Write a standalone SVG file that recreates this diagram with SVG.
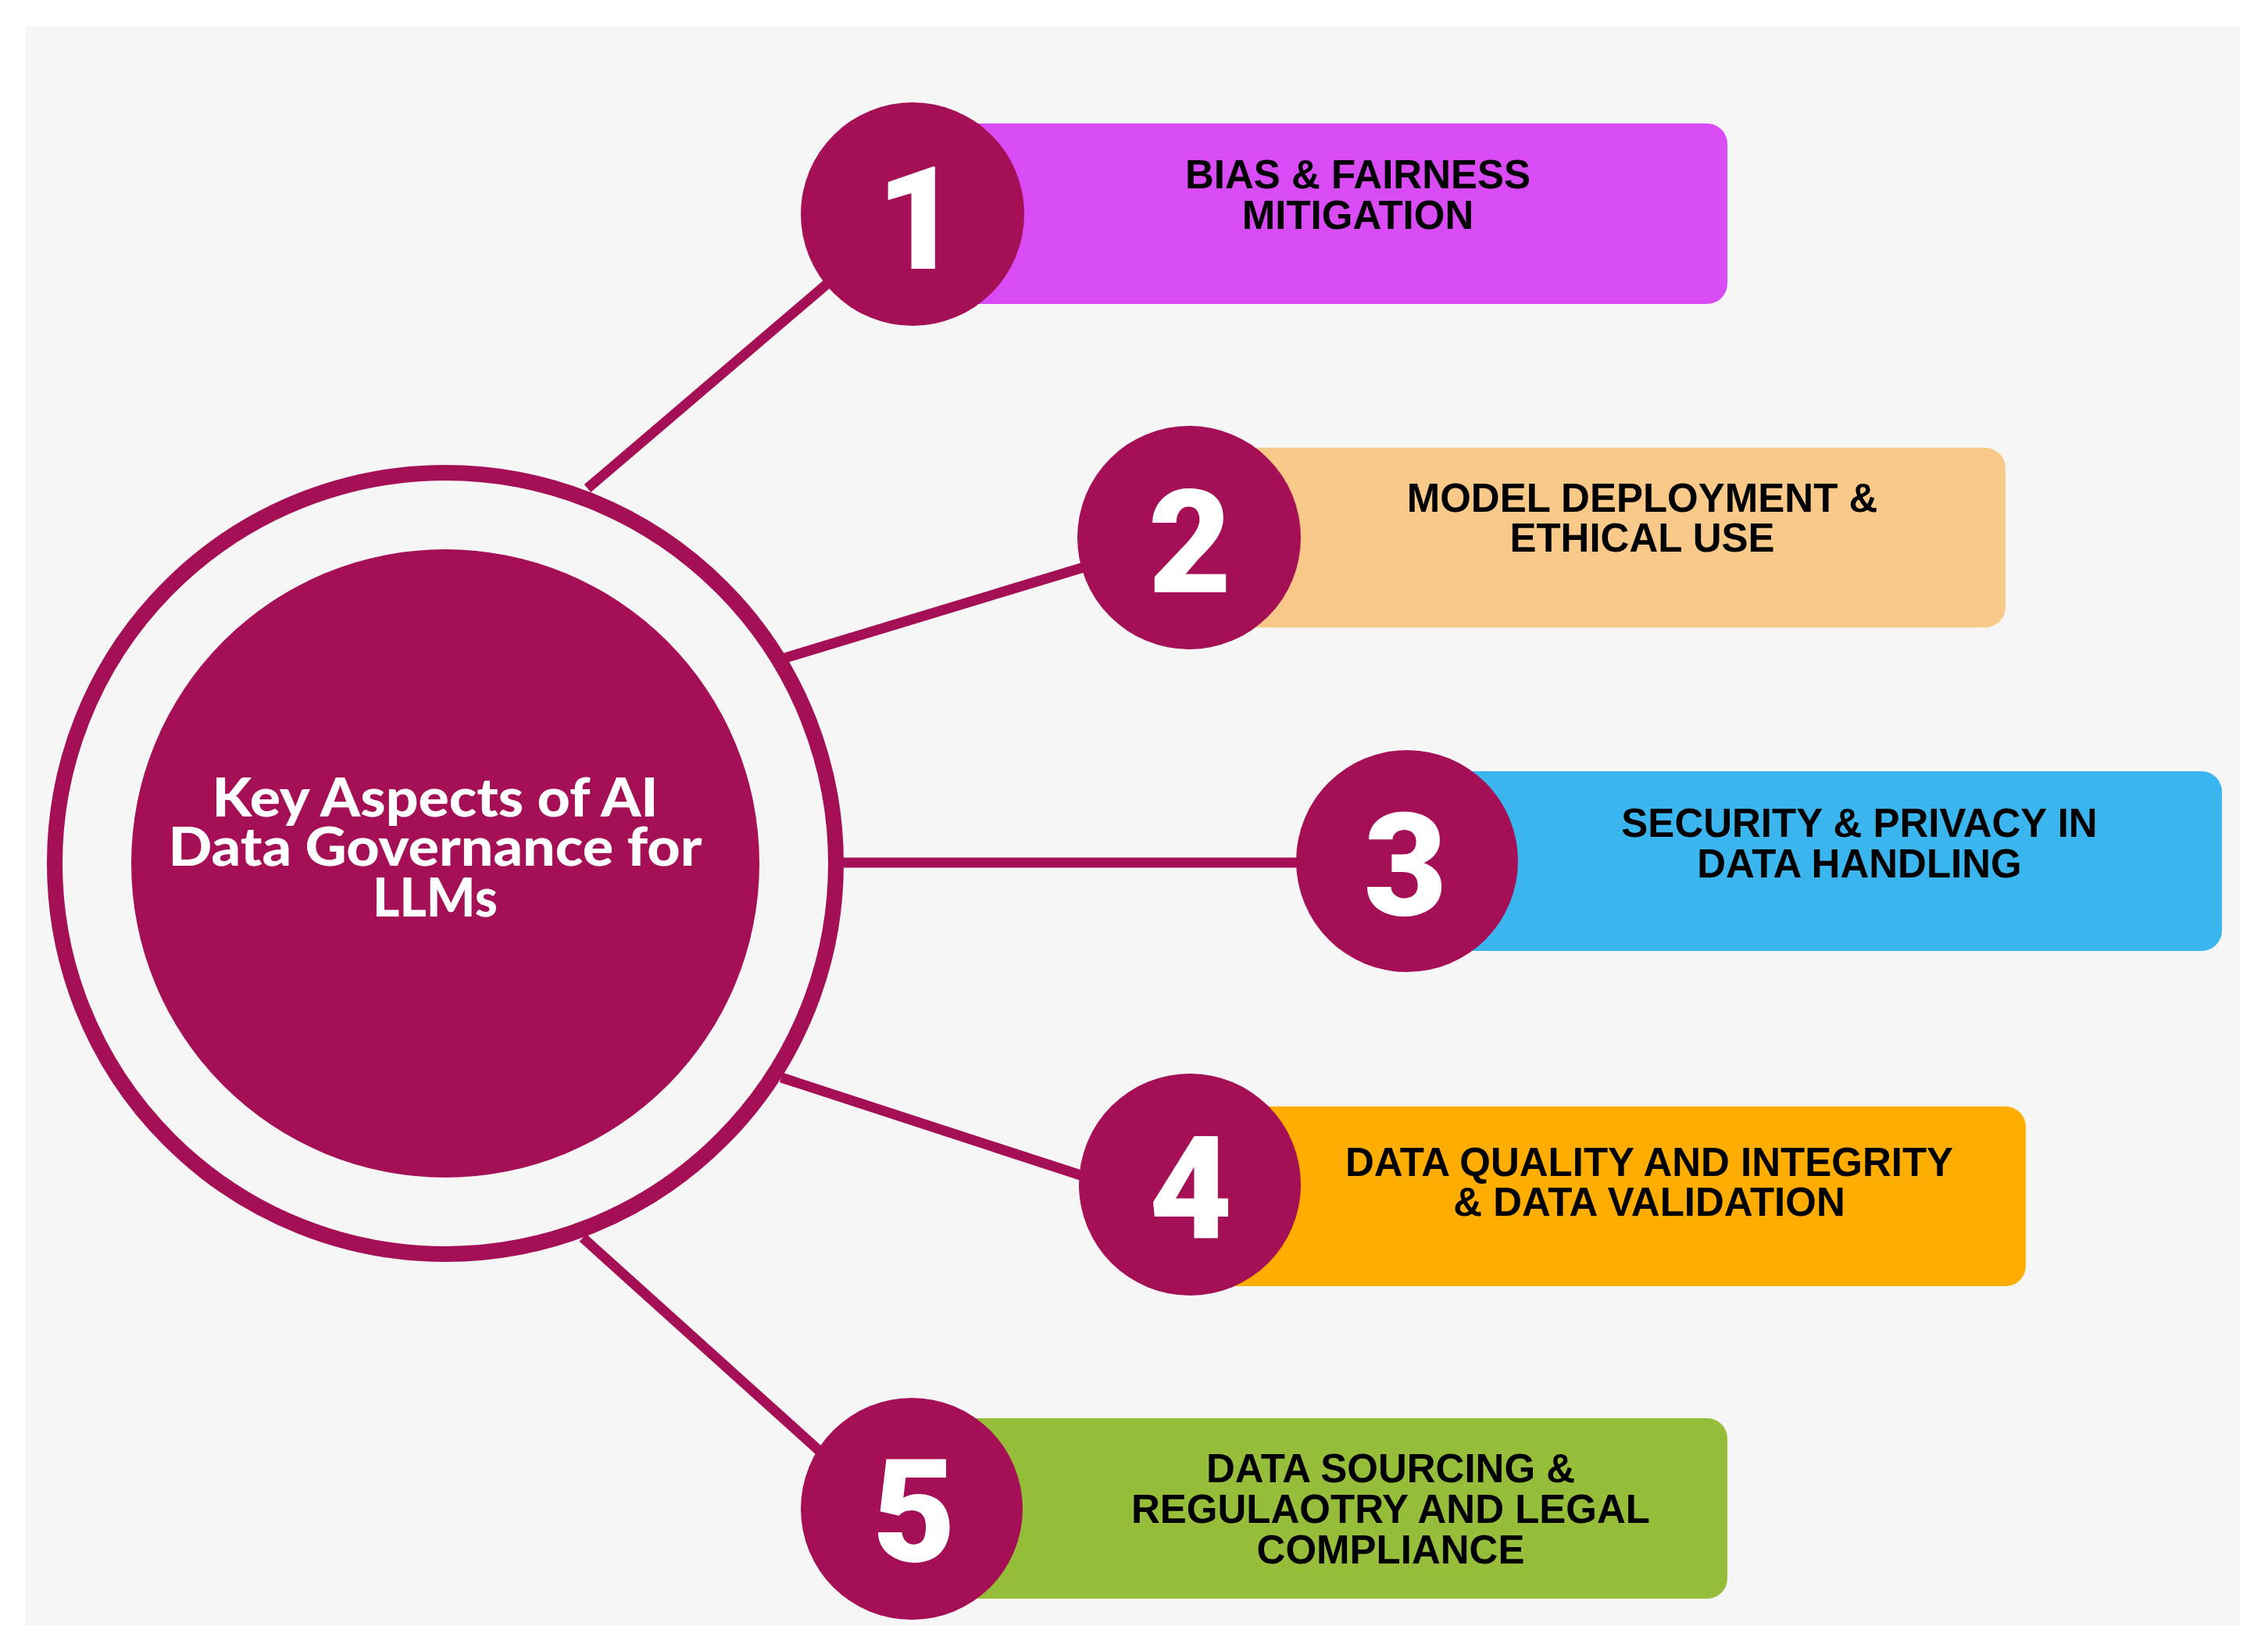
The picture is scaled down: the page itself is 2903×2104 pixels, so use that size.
<svg xmlns="http://www.w3.org/2000/svg" width="2903" height="2104" viewBox="0 0 2903 2104">
<style>
.conn{stroke:#A50F55;stroke-width:13;fill:none;stroke-linecap:butt}
.badge{fill:#A50F55}
.num{font-family:Roboto,"DejaVu Sans",sans-serif;font-weight:900;font-size:184px;fill:#ffffff;text-anchor:middle}
.lbl{font-family:"Liberation Sans",Arial,sans-serif;font-weight:700;font-size:51px;fill:#000000;text-anchor:middle}
.title{font-family:Lato,"Liberation Sans",sans-serif;font-weight:900;font-size:68px;fill:#ffffff;text-anchor:middle}
</style>
<rect x="0" y="0" width="2903" height="2104" fill="#ffffff"/>
<rect x="32" y="33" width="2835" height="2047" fill="#F6F6F6"/>
<g id="connectors">
<line class="conn" x1="752" y1="625" x2="1100" y2="328"/>
<line class="conn" x1="1005" y1="842" x2="1430" y2="713"/>
<line class="conn" x1="1078" y1="1104" x2="1720" y2="1104"/>
<line class="conn" x1="1000" y1="1379" x2="1420" y2="1516"/>
<line class="conn" x1="746" y1="1584" x2="1100" y2="1903"/>
</g>
<g id="center">
<circle cx="570" cy="1105" r="500" fill="none" stroke="#A50F55" stroke-width="20"/>
<circle cx="570" cy="1105" r="402" fill="#A50F55"/>
<text class="title" x="557" y="1045" textLength="571" lengthAdjust="spacingAndGlyphs">Key Aspects of AI</text>
<text class="title" x="557" y="1108" textLength="683" lengthAdjust="spacingAndGlyphs">Data Governance for</text>
<text class="title" x="557" y="1173" textLength="160" lengthAdjust="spacingAndGlyphs">LLMs</text>
</g>
<g id="node1">
<rect x="1168" y="158" width="1043" height="231" rx="26" fill="#D94BF5"/>
<circle class="badge" cx="1168" cy="274" r="143"/>
<text class="num" x="1175" y="344">1</text>
<text class="lbl" x="1738" y="241">BIAS &amp; FAIRNESS</text>
<text class="lbl" x="1738" y="293">MITIGATION</text>
</g>
<g id="node2">
<rect x="1522" y="573" width="1045" height="230" rx="26" fill="#F9C98A"/>
<circle class="badge" cx="1522" cy="688" r="143"/>
<text class="num" x="1523" y="758">2</text>
<text class="lbl" x="2102" y="655">MODEL DEPLOYMENT &amp;</text>
<text class="lbl" x="2102" y="706">ETHICAL USE</text>
</g>
<g id="node3">
<rect x="1801" y="987" width="1043" height="230" rx="26" fill="#3BB5EE"/>
<circle class="badge" cx="1801" cy="1102" r="142"/>
<text class="num" x="1799" y="1171">3</text>
<text class="lbl" x="2380" y="1071">SECURITY &amp; PRIVACY IN</text>
<text class="lbl" x="2380" y="1123">DATA HANDLING</text>
</g>
<g id="node4">
<rect x="1523" y="1416" width="1070" height="230" rx="26" fill="#FFAD00"/>
<circle class="badge" cx="1523" cy="1516" r="142"/>
<text class="num" x="1524" y="1585">4</text>
<text class="lbl" x="2111" y="1505">DATA QUALITY AND INTEGRITY</text>
<text class="lbl" x="2111" y="1556">&amp; DATA VALIDATION</text>
</g>
<g id="node5">
<rect x="1167" y="1815" width="1044" height="231" rx="26" fill="#97BE3A"/>
<circle class="badge" cx="1167" cy="1931" r="142"/>
<text class="num" x="1170" y="1998">5</text>
<text class="lbl" x="1780" y="1897">DATA SOURCING &amp;</text>
<text class="lbl" x="1780" y="1949">REGULAOTRY AND LEGAL</text>
<text class="lbl" x="1780" y="2001">COMPLIANCE</text>
</g>
</svg>
